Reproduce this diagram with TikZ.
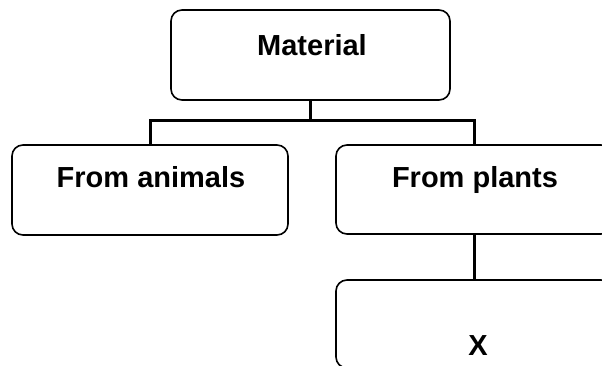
\documentclass[tikz,border=0pt]{standalone}
\usepackage{fontspec}
\setmainfont{Liberation Sans}
\begin{document}
\begin{tikzpicture}[x=1pt,y=-1pt,
  boxnode/.style={draw=black, line width=1.6pt, rounded corners=11pt, inner sep=0pt},
  lbl/.style={anchor=base, inner sep=0pt, font=\fontsize{29}{34}\selectfont\bfseries},
  conn/.style={draw=black, line width=3pt}]
\useasboundingbox (0,0) rectangle (602,365);
\clip (0,0) rectangle (602,365);
\fill[white] (0,0) rectangle (602,365);
% boxes
\node[boxnode, minimum width=279pt, minimum height=90pt] (mat) at (310.5,55) {};
\node[boxnode, minimum width=276pt, minimum height=90pt] (anim) at (150,190) {};
\node[boxnode, minimum width=276pt, minimum height=89pt] (plants) at (474,189.5) {};
\node[boxnode, minimum width=276pt, minimum height=88pt] (xbox) at (474,324) {};
% texts
\node[lbl] (tmat) at (312,55) {Material};
\node[lbl] (tanim) at (151,187) {From animals};
\node[lbl] (tplants) at (475,187) {From plants};
\node[lbl] (tx) at (478,355) {X};
% connectors
\coordinate (junc) at ([yshift=-20pt]mat.south);
\draw[conn] (mat.south) -- (junc);
\draw[conn] (junc) -| (anim.north);
\draw[conn] (junc) -| (plants.north);
\draw[conn] (plants.south) -- (xbox.north);
\end{tikzpicture}
\end{document}
